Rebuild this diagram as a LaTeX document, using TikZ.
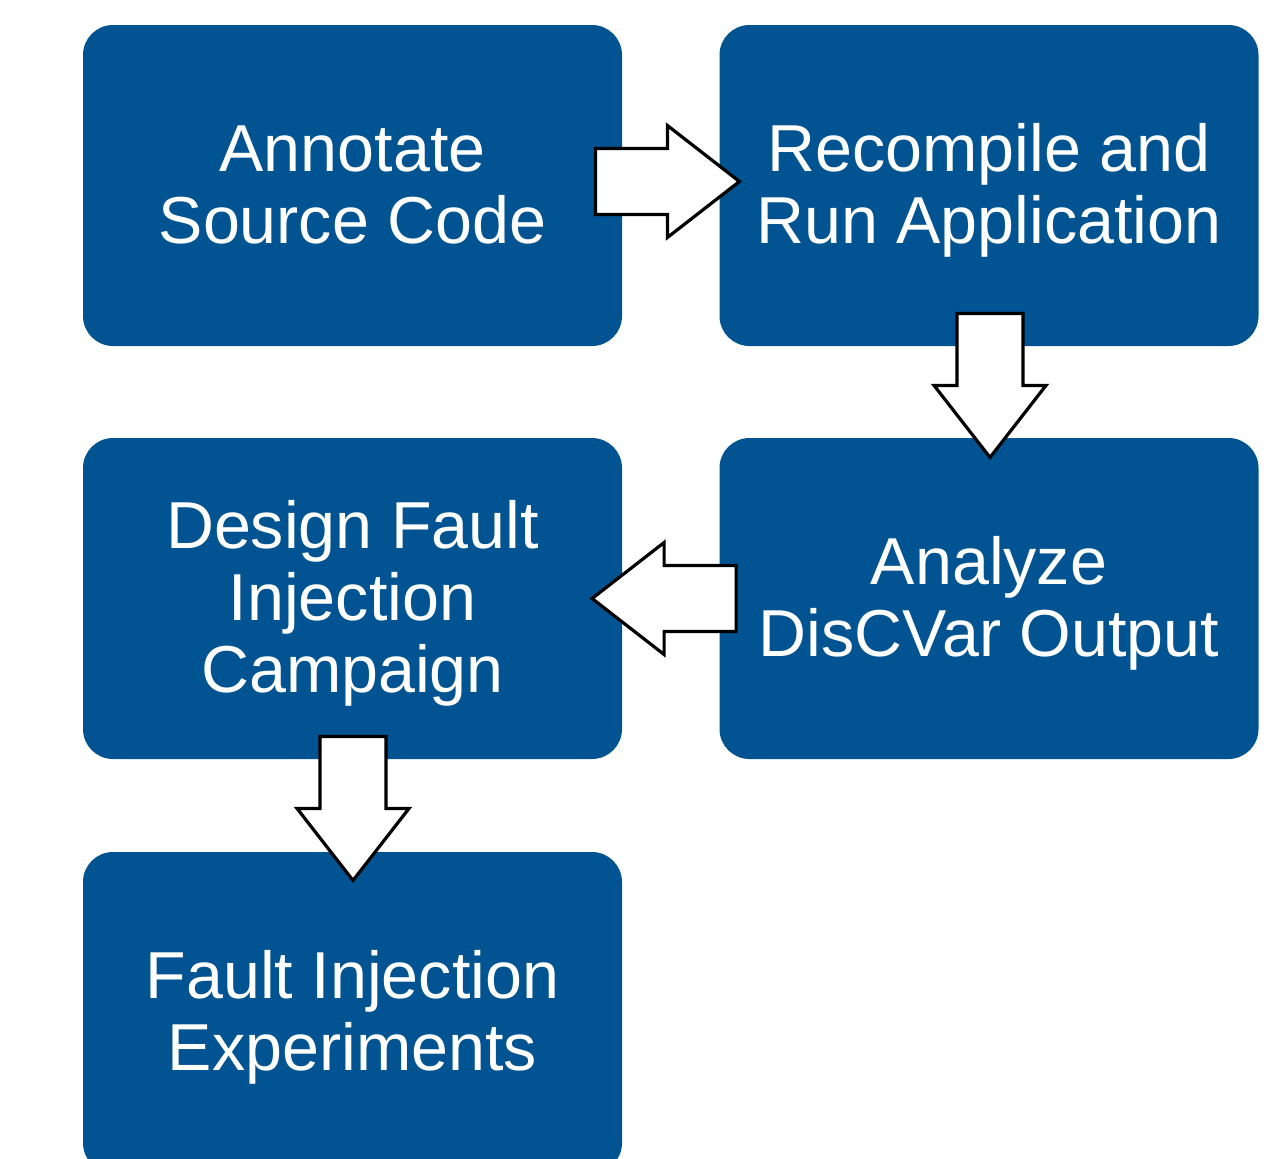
\documentclass[tikz,border=0pt]{standalone}
\usepackage{fontspec}
\setmainfont{Liberation Sans}
\usetikzlibrary{calc}
\definecolor{stepblue}{RGB}{1,84,145}
% fixed line height and depth so every label is centred on the same metrics
\newcommand\ls{\rule[-8pt]{0pt}{38pt}}
\newcommand\boxfont{\fontsize{33.2}{36}\selectfont\lineskiplimit=-20pt\relax}
\tikzset{
  stepbox/.style={rectangle, rounded corners=15pt, fill=stepblue, draw=none,
    minimum width=269.5pt, minimum height=160.5pt, inner sep=0pt,
    text=white, align=center, font=\boxfont},
  blockarrow/.pic={
    \draw[fill=white, draw=black, line width=1.6pt, line join=miter]
      (0,-33) -- (72,-33) -- (72,-56) -- (144,0) -- (72,56) -- (72,33) -- (0,33) -- cycle;
  }
}
\begin{document}
\begin{tikzpicture}[x=0.5pt, y=-0.5pt]
  \useasboundingbox (0,0) rectangle (1267,1158);
  \clip (0,0) rectangle (1267,1158);
  % process steps
  \node[stepbox] (A) at (352.5,185.5) {\ls Annotate\\\ls Source Code};
  \node[stepbox] (B) at (989,185.5) {\ls Recompile and\\\ls Run Application};
  \node[stepbox] (D) at (989,598.5) {\ls Analyze\\\ls DisCVar Output};
  \node[stepbox] (C) at (352.5,598.5) {\ls Design Fault\\\ls Injection\\\ls Campaign};
  \node[stepbox] (E) at (352.5,1012.5) {\ls Fault Injection\\\ls Experiments};
  % block arrows between the steps
  \pic at ($(A.east)+(-27,-4)$) {blockarrow};
  \pic[rotate=-90] at ($(B.south)+(1,-33)$) {blockarrow};
  \pic[rotate=180] at ($(D.west)+(17,0)$) {blockarrow};
  \pic[rotate=-90] at ($(C.south)+(0.5,-23)$) {blockarrow};
\end{tikzpicture}
\end{document}
